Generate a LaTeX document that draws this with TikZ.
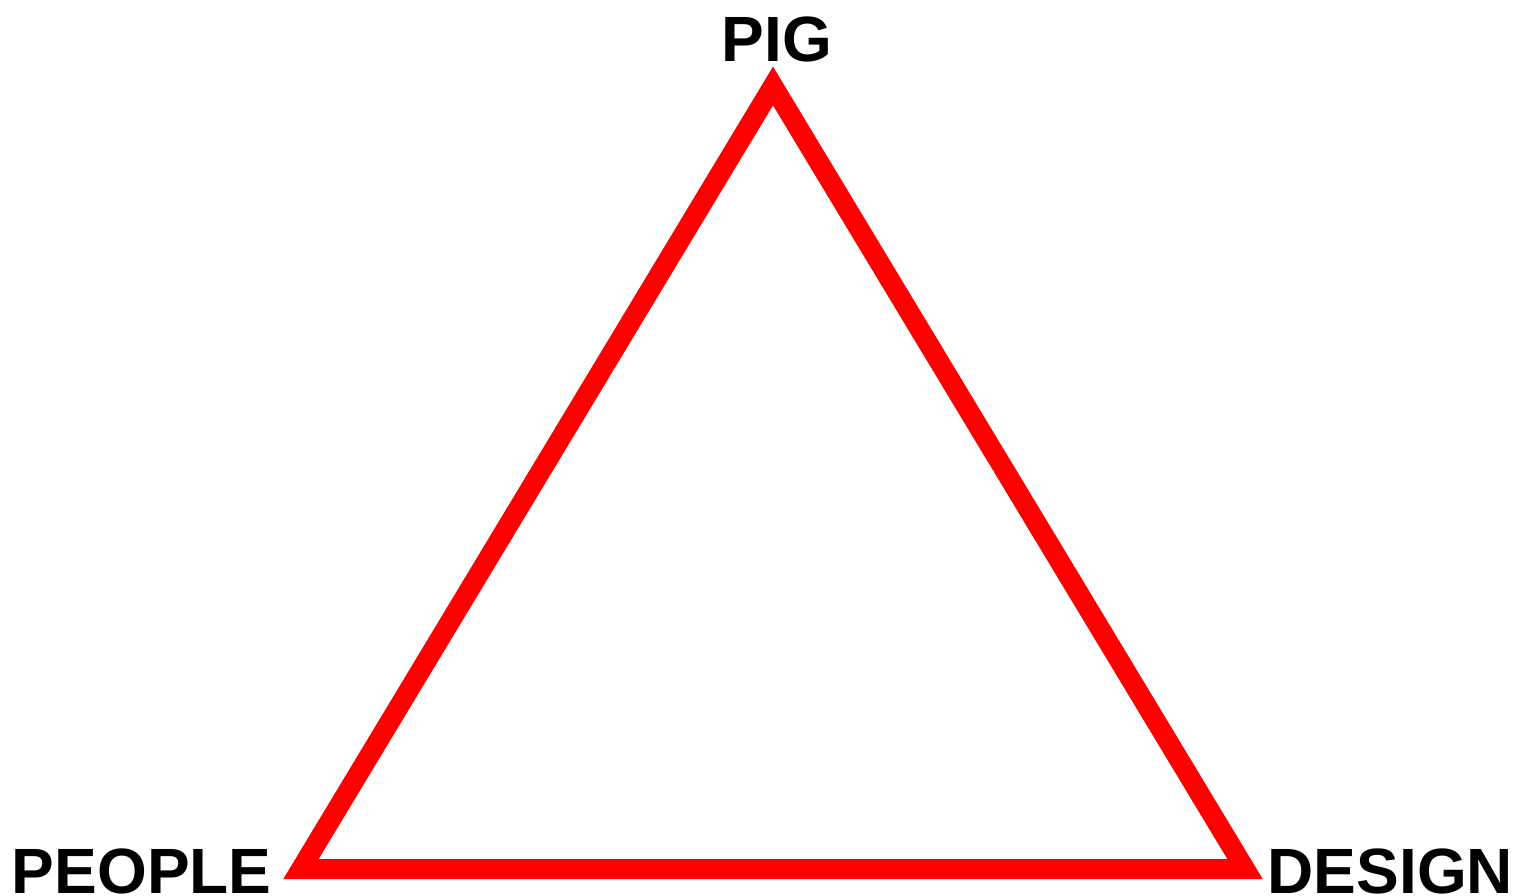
\documentclass[tikz,border=0pt]{standalone}
\usepackage{fontspec}
\setmainfont{Liberation Sans}
\begin{document}
\begin{tikzpicture}[x=1pt,y=-1pt,
  lbl/.style={inner sep=0pt,outer sep=0pt,font=\fontsize{64}{70}\selectfont\bfseries,text=black},
  edge/.style={draw=red,line width=20pt,line join=miter}]
\useasboundingbox (0,0) rectangle (1514,896);
\coordinate (top) at (773,86);
\coordinate (left) at (301,869);
\coordinate (right) at (1245,869);
\draw[edge] (top) -- (left) -- (right) -- cycle;
\node[lbl,anchor=base] (pig) at (777,62) {PIG};
\node[lbl,anchor=base west] (people) at (12,893) {PEOPLE};
\node[lbl,anchor=base east] (design) at (1513,893) {DESIGN};
\end{tikzpicture}
\end{document}
